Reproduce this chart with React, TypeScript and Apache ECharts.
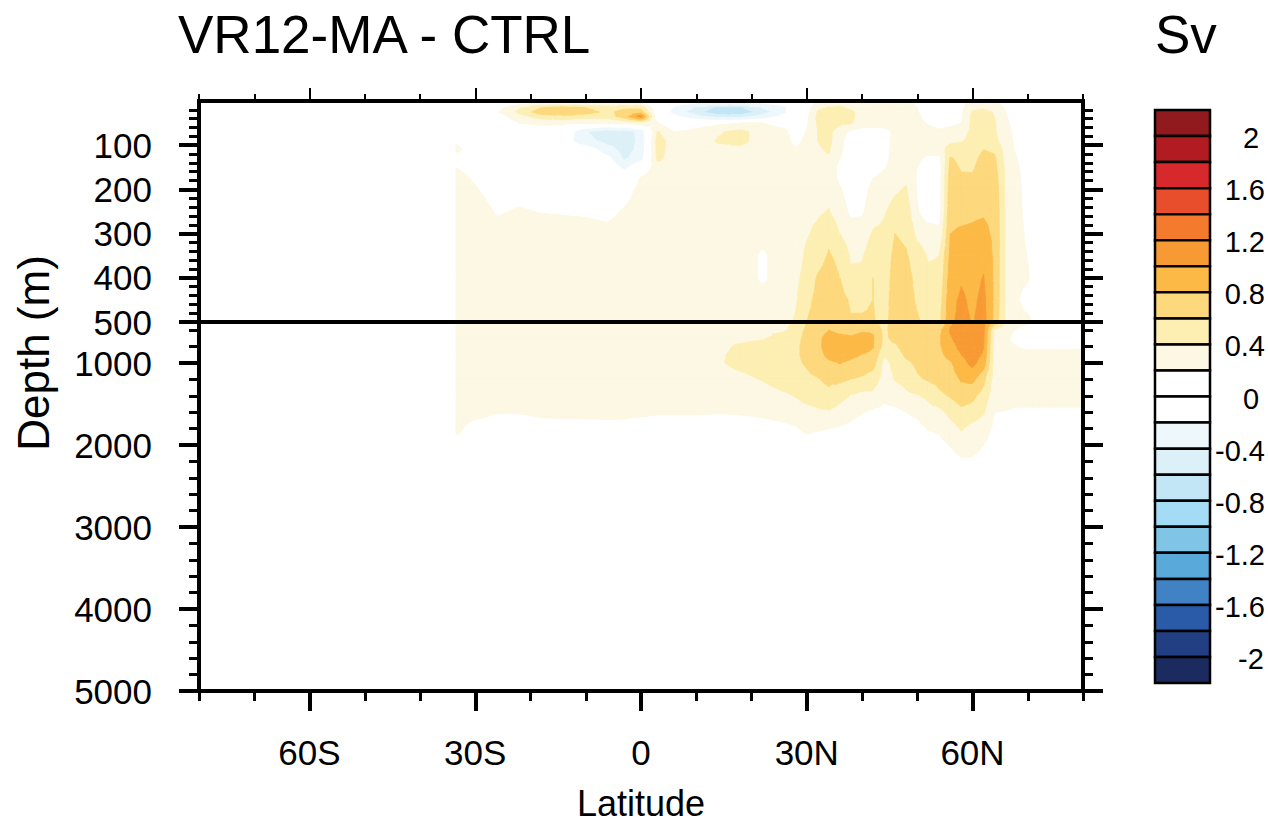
import React, { useEffect, useRef } from "react";
import * as echarts from "echarts";

// ---------- grid of the field (Sv) ----------
const latitudes = [-33.5, -30, -26, -22, -18, -14, -10, -6, -3, 0, 3, 6, 10, 14, 18, 22, 26, 28, 30, 32, 34, 36, 38, 40, 42, 44, 46, 48, 50, 52, 54, 56, 58, 60, 62, 64, 66, 68, 70, 72, 75, 78, 80];
const depths = [5, 15, 25, 35, 50, 70, 90, 110, 130, 150, 175, 200, 250, 300, 350, 400, 450, 500, 600, 700, 800, 900, 1000, 1200, 1400, 1600, 1800, 2000, 2200, 2500, 3000, 4000, 5000];

// one depth profile per latitude (values in Sv, same order as depths)
const s33_5 = [0, 0, 0, 0, 0, 0.05, 0.17, 0.25, 0.1, 0.2, 0.28, 0.3, 0.3, 0.3, 0.3, 0.3, 0.3, 0.3, 0.3, 0.3, 0.3, 0.3, 0.3, 0.3, 0.3, 0.3, 0.25, 0.12, 0.08, 0.05, 0, 0, 0];
const s30 = [0, 0, 0, 0, 0, 0, 0.05, 0.08, 0.1, 0.12, 0.17, 0.22, 0.3, 0.3, 0.3, 0.3, 0.3, 0.3, 0.3, 0.3, 0.3, 0.3, 0.3, 0.3, 0.3, 0.26, 0.12, 0.08, 0.05, 0.03, 0, 0, 0];
const s26 = [0, 0.12, 0.18, 0.1, 0.05, 0, 0, 0, 0, 0.02, 0.05, 0.1, 0.18, 0.28, 0.3, 0.3, 0.3, 0.3, 0.3, 0.3, 0.3, 0.3, 0.3, 0.3, 0.3, 0.21, 0.1, 0.06, 0.04, 0.02, 0, 0, 0];
const s22 = [0.12, 0.38, 0.45, 0.32, 0.2, 0.05, 0, 0, 0, 0.02, 0.06, 0.12, 0.22, 0.3, 0.3, 0.3, 0.3, 0.3, 0.3, 0.3, 0.3, 0.3, 0.3, 0.3, 0.3, 0.21, 0.1, 0.06, 0.04, 0.02, 0, 0, 0];
const s18 = [0.2, 0.6, 0.72, 0.5, 0.25, 0.05, 0, 0, 0, 0.02, 0.05, 0.1, 0.19, 0.3, 0.3, 0.3, 0.3, 0.3, 0.3, 0.3, 0.3, 0.3, 0.3, 0.3, 0.3, 0.24, 0.12, 0.06, 0.04, 0.02, 0, 0, 0];
const s14 = [0.2, 0.68, 0.76, 0.55, 0.25, 0.0, -0.1, 0, 0, 0.02, 0.05, 0.1, 0.18, 0.3, 0.3, 0.3, 0.3, 0.3, 0.3, 0.3, 0.3, 0.3, 0.3, 0.3, 0.3, 0.25, 0.12, 0.06, 0.04, 0.02, 0, 0, 0];
const s10 = [0.2, 0.6, 0.68, 0.5, 0.2, -0.38, -0.32, -0.05, 0, 0.02, 0.05, 0.1, 0.17, 0.28, 0.3, 0.3, 0.3, 0.3, 0.3, 0.3, 0.3, 0.3, 0.3, 0.3, 0.3, 0.25, 0.12, 0.06, 0.04, 0.02, 0, 0, 0];
const s6 = [0.2, 0.5, 0.55, 0.5, 0.2, -0.56, -0.48, -0.3, -0.12, 0, 0.03, 0.08, 0.15, 0.25, 0.3, 0.3, 0.3, 0.3, 0.3, 0.3, 0.3, 0.3, 0.3, 0.3, 0.3, 0.25, 0.14, 0.07, 0.04, 0.02, 0, 0, 0];
const s3 = [0.2, 0.55, 0.68, 0.72, 0.25, -0.52, -0.52, -0.5, -0.43, -0.25, 0.02, 0.12, 0.22, 0.3, 0.3, 0.3, 0.3, 0.3, 0.3, 0.3, 0.3, 0.3, 0.3, 0.3, 0.3, 0.25, 0.13, 0.06, 0.04, 0.02, 0, 0, 0];
const eq0 = [0.15, 0.55, 0.72, 1.1, 0.35, -0.32, -0.34, -0.32, -0.26, 0.05, 0.22, 0.25, 0.3, 0.3, 0.3, 0.3, 0.3, 0.3, 0.3, 0.3, 0.3, 0.3, 0.3, 0.3, 0.3, 0.24, 0.1, 0.05, 0.03, 0.02, 0, 0, 0];
const n3 = [0, 0, 0, 0.05, 0.2, 0.42, 0.5, 0.48, 0.45, 0.3, 0.3, 0.3, 0.3, 0.3, 0.3, 0.3, 0.3, 0.3, 0.3, 0.3, 0.3, 0.3, 0.3, 0.3, 0.3, 0.22, 0.1, 0.05, 0.03, 0.02, 0, 0, 0];
const n6 = [-0.05, -0.2, -0.25, -0.1, 0.05, 0.2, 0.3, 0.3, 0.3, 0.3, 0.3, 0.3, 0.3, 0.3, 0.3, 0.3, 0.3, 0.3, 0.3, 0.3, 0.3, 0.3, 0.3, 0.3, 0.3, 0.22, 0.1, 0.05, 0.03, 0.02, 0, 0, 0];
const n10 = [-0.15, -0.42, -0.52, -0.32, 0.1, 0.25, 0.3, 0.3, 0.3, 0.3, 0.3, 0.3, 0.3, 0.3, 0.3, 0.3, 0.3, 0.3, 0.3, 0.3, 0.3, 0.3, 0.3, 0.3, 0.3, 0.22, 0.1, 0.05, 0.03, 0.02, 0, 0, 0];
const n14 = [-0.2, -0.65, -0.75, -0.5, 0.15, 0.38, 0.42, 0.35, 0.3, 0.3, 0.3, 0.3, 0.3, 0.3, 0.3, 0.3, 0.3, 0.3, 0.3, 0.3, 0.32, 0.36, 0.38, 0.32, 0.3, 0.21, 0.1, 0.05, 0.03, 0.02, 0, 0, 0];
const n18 = [-0.2, -0.62, -0.74, -0.5, 0.2, 0.46, 0.46, 0.35, 0.3, 0.3, 0.3, 0.3, 0.3, 0.3, 0.3, 0.3, 0.3, 0.3, 0.3, 0.33, 0.45, 0.48, 0.45, 0.35, 0.3, 0.22, 0.1, 0.05, 0.03, 0.02, 0, 0, 0];
const n22 = [-0.15, -0.38, -0.5, -0.3, 0.2, 0.3, 0.3, 0.3, 0.3, 0.3, 0.3, 0.3, 0.3, 0.28, 0.17, 0.17, 0.28, 0.3, 0.35, 0.38, 0.5, 0.5, 0.5, 0.41, 0.32, 0.24, 0.12, 0.06, 0.04, 0.02, 0, 0, 0];
const n26 = [-0.08, -0.22, -0.22, -0.1, 0.12, 0.25, 0.3, 0.3, 0.3, 0.3, 0.3, 0.3, 0.3, 0.3, 0.3, 0.3, 0.32, 0.35, 0.38, 0.5, 0.55, 0.55, 0.55, 0.5, 0.37, 0.28, 0.15, 0.08, 0.05, 0.02, 0, 0, 0];
const n28 = [0.02, 0.05, 0.05, 0.05, 0.05, 0.08, 0.12, 0.22, 0.3, 0.3, 0.3, 0.3, 0.3, 0.3, 0.3, 0.35, 0.38, 0.42, 0.5, 0.55, 0.57, 0.57, 0.57, 0.52, 0.41, 0.32, 0.18, 0.09, 0.05, 0.02, 0, 0, 0];
const n30 = [0.05, 0.1, 0.12, 0.15, 0.17, 0.22, 0.27, 0.3, 0.3, 0.3, 0.3, 0.32, 0.35, 0.38, 0.44, 0.48, 0.55, 0.6, 0.64, 0.65, 0.65, 0.65, 0.62, 0.56, 0.47, 0.33, 0.25, 0.1, 0.06, 0.03, 0, 0, 0];
const n32 = [0.25, 0.35, 0.42, 0.45, 0.43, 0.4, 0.4, 0.38, 0.35, 0.3, 0.3, 0.32, 0.37, 0.45, 0.52, 0.62, 0.65, 0.68, 0.72, 0.75, 0.75, 0.72, 0.7, 0.59, 0.52, 0.36, 0.22, 0.1, 0.06, 0.03, 0, 0, 0];
const n34 = [0.3, 0.42, 0.5, 0.5, 0.5, 0.45, 0.45, 0.42, 0.38, 0.3, 0.3, 0.35, 0.41, 0.55, 0.62, 0.68, 0.72, 0.75, 0.8, 0.88, 0.9, 0.86, 0.76, 0.64, 0.55, 0.38, 0.2, 0.1, 0.06, 0.03, 0, 0, 0];
const n36 = [0.3, 0.45, 0.5, 0.5, 0.45, 0.3, 0.26, 0.25, 0.2, 0.15, 0.16, 0.22, 0.3, 0.4, 0.55, 0.6, 0.68, 0.72, 0.75, 0.86, 0.95, 0.9, 0.81, 0.64, 0.46, 0.33, 0.18, 0.1, 0.06, 0.03, 0, 0, 0];
const n38 = [0.3, 0.35, 0.45, 0.45, 0.42, 0.15, 0.08, 0.08, 0.05, 0.05, 0.08, 0.1, 0.16, 0.3, 0.38, 0.43, 0.57, 0.62, 0.72, 0.84, 0.92, 0.85, 0.76, 0.6, 0.39, 0.27, 0.14, 0.08, 0.05, 0.02, 0, 0, 0];
const n40 = [0.3, 0.3, 0.3, 0.3, 0.3, 0.1, 0.05, 0.05, 0.05, 0.05, 0.08, 0.12, 0.17, 0.3, 0.38, 0.45, 0.57, 0.62, 0.78, 0.87, 0.88, 0.8, 0.72, 0.57, 0.34, 0.21, 0.11, 0.07, 0.04, 0.02, 0, 0, 0];
const n42 = [0.3, 0.3, 0.3, 0.3, 0.3, 0.1, 0.05, 0.05, 0.05, 0.08, 0.2, 0.26, 0.32, 0.42, 0.52, 0.6, 0.6, 0.62, 0.78, 0.82, 0.81, 0.76, 0.68, 0.5, 0.35, 0.17, 0.1, 0.06, 0.04, 0.02, 0, 0, 0];
const n44 = [0.3, 0.3, 0.3, 0.3, 0.3, 0.12, 0.08, 0.1, 0.12, 0.18, 0.28, 0.3, 0.38, 0.44, 0.47, 0.48, 0.5, 0.52, 0.55, 0.56, 0.54, 0.42, 0.35, 0.32, 0.24, 0.15, 0.08, 0.05, 0.03, 0.02, 0, 0, 0];
const n46 = [0.3, 0.3, 0.3, 0.3, 0.3, 0.25, 0.28, 0.3, 0.3, 0.3, 0.33, 0.37, 0.48, 0.6, 0.66, 0.7, 0.72, 0.72, 0.7, 0.65, 0.57, 0.5, 0.45, 0.41, 0.3, 0.15, 0.08, 0.05, 0.03, 0.02, 0, 0, 0];
const n48 = [0.25, 0.25, 0.22, 0.3, 0.3, 0.3, 0.3, 0.3, 0.3, 0.35, 0.36, 0.42, 0.5, 0.56, 0.62, 0.66, 0.66, 0.7, 0.72, 0.72, 0.7, 0.64, 0.56, 0.46, 0.36, 0.2, 0.12, 0.07, 0.04, 0.02, 0, 0, 0];
const n50 = [0.18, 0.2, 0.22, 0.25, 0.28, 0.3, 0.3, 0.3, 0.25, 0.2, 0.18, 0.18, 0.22, 0.35, 0.5, 0.55, 0.58, 0.62, 0.68, 0.7, 0.7, 0.68, 0.64, 0.57, 0.39, 0.24, 0.14, 0.08, 0.05, 0.02, 0, 0, 0];
const n52 = [0.05, 0.05, 0.05, 0.1, 0.18, 0.28, 0.3, 0.3, 0.15, 0.08, 0.05, 0.05, 0.08, 0.3, 0.38, 0.45, 0.5, 0.55, 0.72, 0.75, 0.75, 0.74, 0.72, 0.62, 0.44, 0.33, 0.21, 0.12, 0.07, 0.03, 0, 0, 0];
const n54 = [0.05, 0.05, 0.05, 0.05, 0.1, 0.25, 0.3, 0.3, 0.15, 0.12, 0.12, 0.12, 0.12, 0.25, 0.4, 0.45, 0.5, 0.55, 0.75, 0.78, 0.78, 0.76, 0.74, 0.66, 0.56, 0.34, 0.23, 0.15, 0.09, 0.04, 0.01, 0, 0];
const n56 = [0.1, 0.1, 0.1, 0.1, 0.15, 0.28, 0.35, 0.5, 0.62, 0.66, 0.7, 0.72, 0.76, 0.8, 0.85, 0.9, 0.95, 0.97, 1.02, 0.98, 0.9, 0.86, 0.78, 0.72, 0.62, 0.46, 0.32, 0.21, 0.13, 0.06, 0.02, 0, 0];
const n58 = [0.15, 0.15, 0.17, 0.18, 0.2, 0.32, 0.38, 0.52, 0.55, 0.58, 0.63, 0.7, 0.76, 0.82, 0.9, 0.98, 1.03, 1.05, 1.1, 1.12, 1.08, 1.0, 0.93, 0.82, 0.7, 0.55, 0.42, 0.3, 0.17, 0.1, 0.04, 0, 0];
const n60 = [0.25, 0.35, 0.42, 0.45, 0.45, 0.45, 0.48, 0.52, 0.55, 0.58, 0.62, 0.7, 0.77, 0.83, 0.88, 0.93, 0.96, 0.99, 1.1, 1.15, 1.13, 1.08, 1.06, 0.85, 0.65, 0.52, 0.33, 0.27, 0.17, 0.1, 0.04, 0, 0];
const n62 = [0.3, 0.38, 0.45, 0.5, 0.55, 0.55, 0.56, 0.6, 0.65, 0.68, 0.7, 0.72, 0.78, 0.85, 0.95, 1.01, 1.05, 1.07, 1.05, 1.03, 1.01, 0.98, 0.9, 0.66, 0.52, 0.42, 0.3, 0.2, 0.14, 0.07, 0.03, 0, 0];
const n64 = [0.28, 0.32, 0.38, 0.4, 0.42, 0.42, 0.45, 0.57, 0.63, 0.66, 0.7, 0.72, 0.75, 0.76, 0.76, 0.76, 0.76, 0.74, 0.38, 0.34, 0.32, 0.32, 0.32, 0.3, 0.28, 0.2, 0.15, 0.1, 0.06, 0.03, 0, 0, 0];
const n66 = [0.12, 0.17, 0.2, 0.22, 0.25, 0.28, 0.3, 0.32, 0.34, 0.36, 0.37, 0.38, 0.38, 0.38, 0.38, 0.38, 0.37, 0.36, 0.28, 0.25, 0.24, 0.27, 0.3, 0.3, 0.28, 0.19, 0.12, 0.07, 0.04, 0.02, 0, 0, 0];
const n68 = [0.05, 0.05, 0.06, 0.08, 0.1, 0.12, 0.14, 0.17, 0.2, 0.23, 0.25, 0.26, 0.27, 0.28, 0.28, 0.25, 0.22, 0.28, 0.18, 0.12, 0.2, 0.28, 0.3, 0.3, 0.27, 0.17, 0.1, 0.06, 0.03, 0.01, 0, 0, 0];
const n70 = [0.02, 0.02, 0.02, 0.02, 0.03, 0.04, 0.05, 0.06, 0.08, 0.1, 0.11, 0.12, 0.13, 0.16, 0.19, 0.22, 0.12, 0.25, 0.08, 0.08, 0.15, 0.28, 0.3, 0.3, 0.27, 0.17, 0.1, 0.05, 0.03, 0.01, 0, 0, 0];
const n72 = [0, 0, 0, 0, 0, 0, 0, 0, 0, 0.02, 0.03, 0.04, 0.05, 0.06, 0.07, 0.08, 0.06, 0.1, 0.05, 0.05, 0.15, 0.28, 0.3, 0.3, 0.27, 0.17, 0.1, 0.05, 0.03, 0.01, 0, 0, 0];
const n75 = [0, 0, 0, 0, 0, 0, 0, 0, 0, 0, 0, 0, 0, 0.02, 0.03, 0.04, 0.04, 0.05, 0.04, 0.04, 0.15, 0.28, 0.3, 0.3, 0.27, 0.17, 0.1, 0.05, 0.03, 0.01, 0, 0, 0];
const n78 = [0, 0, 0, 0, 0, 0, 0, 0, 0, 0, 0, 0, 0, 0.02, 0.03, 0.03, 0.04, 0.05, 0.04, 0.04, 0.16, 0.28, 0.3, 0.3, 0.27, 0.17, 0.1, 0.05, 0.03, 0.01, 0, 0, 0];
const n80 = [0, 0, 0, 0, 0, 0, 0, 0, 0, 0, 0, 0, 0, 0.02, 0.02, 0.03, 0.04, 0.05, 0.04, 0.04, 0.16, 0.28, 0.3, 0.3, 0.27, 0.17, 0.1, 0.05, 0.03, 0.01, 0, 0, 0];

const profiles = [s33_5, s30, s26, s22, s18, s14, s10, s6, s3, eq0, n3, n6, n10, n14, n18, n22, n26, n28, n30, n32, n34, n36, n38, n40, n42, n44, n46, n48, n50, n52, n54, n56, n58, n60, n62, n64, n66, n68, n70, n72, n75, n78, n80];

// ---------- contour levels / colours ----------
const levels = [-2, -1.8, -1.6, -1.4, -1.2, -1, -0.8, -0.6, -0.4, -0.2, 0, 0.2, 0.4, 0.6, 0.8, 1, 1.2, 1.4, 1.6, 1.8, 2];
const bandColors = [
  "#1c2b5f", "#233f83", "#2a5ba8", "#4182c4", "#5aa9db", "#80c4e6", "#a4dcf5", "#c2e6f6", "#dcf0f8", "#eef8fc",
  "#ffffff", "#ffffff",
  "#fdf8e3", "#fdefb2", "#fdd87c", "#fcb946", "#f89a33", "#f47a2e", "#e84d2c", "#d7282b", "#b31b22", "#911a1e",
];
const colorbarLabels = ["2", "1.6", "1.2", "0.8", "0.4", "0", "-0.4", "-0.8", "-1.2", "-1.6", "-2"];

// ---------- axes ticks ----------
const latMajor = [-60, -30, 0, 30, 60];
const topMajor = [100, 200, 300, 400, 500];
const topMinor = [20, 40, 60, 80, 120, 140, 160, 180, 220, 240, 260, 280, 320, 340, 360, 380, 420, 440, 460, 480];
const botMajor = [1000, 2000, 3000, 4000, 5000];
const botMinor = [600, 800, 1200, 1400, 1600, 1800, 2200, 2400, 2600, 2800, 3200, 3400, 3600, 3800, 4200, 4400, 4600, 4800];

const FONT = '"Liberation Sans", Arial, Helvetica, sans-serif';
const BLACK = "#000";

function bandOf(v: number) {
  let k = 0;
  while (k < levels.length && v >= levels[k]) k++;
  return k;
}

type P = { x: number; y: number; v: number };
function clip(poly: P[], level: number, above: boolean): P[] {
  const out: P[] = [];
  for (let i = 0; i < poly.length; i++) {
    const a = poly[i];
    const b = poly[(i + 1) % poly.length];
    const ina = above ? a.v >= level : a.v <= level;
    const inb = above ? b.v >= level : b.v <= level;
    if (ina) out.push(a);
    if (ina !== inb) {
      const t = (level - a.v) / (b.v - a.v);
      out.push({ x: a.x + t * (b.x - a.x), y: a.y + t * (b.y - a.y), v: level });
    }
  }
  return out;
}

function polyEl(p: P[], k: number) {
  const c = bandColors[k];
  return {
    type: "polygon",
    shape: { points: p.map((q) => [q.x, q.y]) },
    style: { fill: c, stroke: c, lineWidth: 0.8 },
    silent: true,
  };
}

const isWhite = (k: number) => k === 10 || k === 11;

function renderCell(_params: any, api: any) {
  const i = api.value(2) as number;
  const j = api.value(3) as number;
  const la0 = latitudes[i], la1 = latitudes[i + 1];
  const d0 = depths[j], d1 = depths[j + 1];
  const cs = [api.coord([la0, d0]), api.coord([la1, d0]), api.coord([la1, d1]), api.coord([la0, d1])];
  const vs = [profiles[i][j], profiles[i + 1][j], profiles[i + 1][j + 1], profiles[i][j + 1]];
  const pts: P[] = cs.map((c: number[], k: number) => ({ x: c[0], y: c[1], v: vs[k] }));
  const bands = vs.map(bandOf);
  const kmin = Math.min(...bands), kmax = Math.max(...bands);
  const children: any[] = [];
  if (kmin === kmax) {
    if (!isWhite(kmin)) children.push(polyEl(pts, kmin));
  } else {
    const center: P = {
      x: (pts[0].x + pts[1].x + pts[2].x + pts[3].x) / 4,
      y: (pts[0].y + pts[1].y + pts[2].y + pts[3].y) / 4,
      v: (vs[0] + vs[1] + vs[2] + vs[3]) / 4,
    };
    for (let e = 0; e < 4; e++) {
      const tri = [pts[e], pts[(e + 1) % 4], center];
      for (let k = kmin; k <= kmax; k++) {
        if (isWhite(k)) continue;
        let p = tri;
        if (k > 0) p = clip(p, levels[k - 1], true);
        if (p.length < 3) continue;
        if (k < levels.length) p = clip(p, levels[k], false);
        if (p.length >= 3) children.push(polyEl(p, k));
      }
    }
  }
  return { type: "group", children };
}

function cells(j0: number, j1: number) {
  const out: number[][] = [];
  for (let i = 0; i < latitudes.length - 1; i++) {
    for (let j = j0; j < j1; j++) out.push([latitudes[i], depths[j], i, j]);
  }
  return out;
}

const latLabel = (v: number) => (v < 0 ? `${-v}S` : v > 0 ? `${v}N` : "0");

const lineStyle = { color: BLACK, width: 4, cap: "square" };

function xAx(grid: number, position: string, extra: any) {
  return {
    gridIndex: grid, type: "value", position, min: -80, max: 80, z: 5,
    axisLine: { show: false, onZero: false, lineStyle },
    axisTick: { show: false },
    axisLabel: { show: false },
    splitLine: { show: false },
    ...extra,
  };
}
function yAx(grid: number, position: string, min: number, max: number, extra: any) {
  return {
    gridIndex: grid, type: "value", position, min, max, inverse: true, z: 5,
    axisLine: { show: false, onZero: false, lineStyle },
    axisTick: { show: false },
    axisLabel: { show: false },
    splitLine: { show: false },
    ...extra,
  };
}

const majorTick = (vals: number[]) => ({ show: true, customValues: vals, length: 20, lineStyle: { color: BLACK, width: 4 } });
const minorTick = (vals: number[]) => ({ show: true, customValues: vals, length: 10, lineStyle: { color: BLACK, width: 3 } });
const yLabel = (vals: number[]) => ({
  show: true, customValues: vals, fontSize: 35, fontFamily: FONT, color: BLACK, margin: 47,
  formatter: (v: number) => String(v),
});
const lineOn = { show: true, onZero: false, lineStyle };

// approximate advance widths (em) of Liberation Sans glyphs used in the colour-bar labels
const glyphW = (ch: string) => (ch === "." ? 0.278 : ch === "-" ? 0.333 : 0.556);

function buildOption() {
  const graphics: any[] = [
    { type: "text", x: 178, y: 34, style: { text: "VR12-MA - CTRL", fontSize: 53, fontFamily: FONT, fill: BLACK, align: "left", verticalAlign: "middle" } },
    { type: "text", x: 1155, y: 34, style: { text: "Sv", fontSize: 53, fontFamily: FONT, fill: BLACK, align: "left", verticalAlign: "middle" } },
    { type: "text", x: 641, y: 803, style: { text: "Latitude", fontSize: 36, fontFamily: FONT, fill: BLACK, align: "center", verticalAlign: "middle" } },
    { type: "text", x: 33, y: 353, rotation: Math.PI / 2, style: { text: "Depth (m)", fontSize: 44, fontFamily: FONT, fill: BLACK, align: "center", verticalAlign: "middle" } },
  ];
  const cbTop = 110, cbH = 26.05, cbX = 1155, cbW = 55;
  const nBox = bandColors.length;
  for (let b = 0; b < nBox; b++) {
    graphics.push({
      type: "rect",
      shape: { x: cbX, y: cbTop + b * cbH, width: cbW, height: cbH },
      style: { fill: bandColors[nBox - 1 - b], stroke: BLACK, lineWidth: 2.5 },
    });
  }
  const cbFont = 29;
  colorbarLabels.forEach((t, n) => {
    const b = 1 + 2 * n;
    const w = t.split("").reduce((s, ch) => s + glyphW(ch), 0) * cbFont;
    const cx = Math.min(1251, 1265 - w / 2);
    graphics.push({
      type: "text", x: cx, y: cbTop + b * cbH + 2,
      style: { text: t, fontSize: cbFont, fontFamily: FONT, fill: BLACK, align: "center", verticalAlign: "middle" },
    });
  });

  return {
    animation: false,
    backgroundColor: "#fff",
    grid: [
      { left: 199, top: 101, width: 884, height: 221 },
      { left: 199, top: 322, width: 884, height: 369 },
    ],
    xAxis: [
      xAx(0, "bottom", { axisLine: lineOn }),
      xAx(0, "top", { interval: 10, axisLine: lineOn, axisTick: { show: true, length: 7, lineStyle: { color: BLACK, width: 2 } } }),
      xAx(0, "top", { axisTick: { show: true, customValues: latMajor, length: 13, lineStyle: { color: BLACK, width: 2 } } }),
      xAx(1, "top", { axisLine: lineOn }),
      xAx(1, "bottom", { interval: 10, axisLine: lineOn, axisTick: { show: true, length: 10, lineStyle: { color: BLACK, width: 3 } } }),
      xAx(1, "bottom", {
        axisTick: majorTick(latMajor),
        axisLabel: { show: true, customValues: latMajor, formatter: latLabel, fontSize: 35, fontFamily: FONT, color: BLACK, margin: 44 },
      }),
    ],
    yAxis: [
      yAx(0, "left", 0, 500, { axisLine: lineOn, axisTick: majorTick(topMajor), axisLabel: yLabel(topMajor) }),
      yAx(0, "left", 0, 500, { axisTick: minorTick(topMinor) }),
      yAx(0, "right", 0, 500, { axisLine: lineOn, axisTick: majorTick(topMajor) }),
      yAx(0, "right", 0, 500, { axisTick: minorTick(topMinor) }),
      yAx(1, "left", 500, 5000, { axisLine: lineOn, axisTick: majorTick(botMajor), axisLabel: yLabel(botMajor) }),
      yAx(1, "left", 500, 5000, { axisTick: minorTick(botMinor) }),
      yAx(1, "right", 500, 5000, { axisLine: lineOn, axisTick: majorTick(botMajor) }),
      yAx(1, "right", 500, 5000, { axisTick: minorTick(botMinor) }),
    ],
    series: [
      {
        type: "custom", name: "upper", xAxisIndex: 0, yAxisIndex: 0, silent: true, clip: true, z: 1,
        encode: { x: 0, y: 1 }, renderItem: renderCell, data: cells(0, 17),
      },
      {
        type: "custom", name: "lower", xAxisIndex: 3, yAxisIndex: 4, silent: true, clip: true, z: 1,
        encode: { x: 0, y: 1 }, renderItem: renderCell, data: cells(17, depths.length - 1),
      },
    ],
    graphic: graphics,
  };
}

export default function App() {
  const ref = useRef<HTMLDivElement>(null);
  useEffect(() => {
    if (!ref.current) return;
    const chart = echarts.init(ref.current, null, { renderer: "svg" });
    chart.setOption(buildOption() as any);
    return () => chart.dispose();
  }, []);
  return (
    <div
      ref={ref}
      style={{ position: "fixed", left: 0, top: 0, width: 1268, height: 823, background: "#fff" }}
    />
  );
}
